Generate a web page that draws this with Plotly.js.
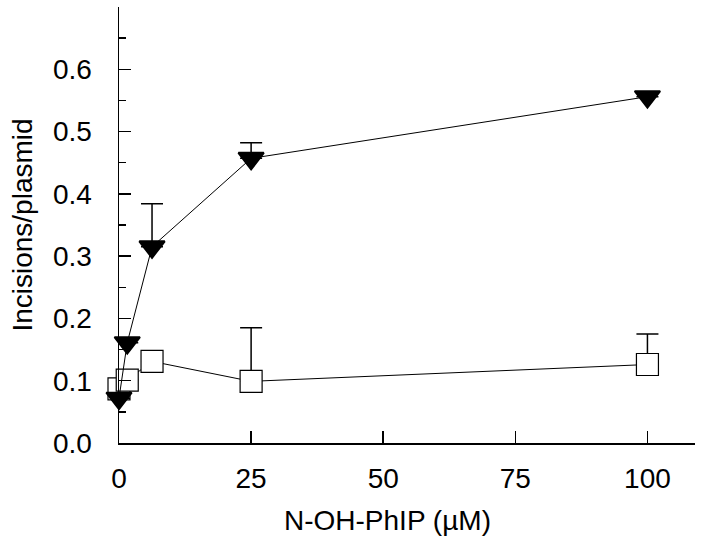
<!DOCTYPE html>
<html>
<head>
<meta charset="utf-8">
<script src="https://cdn.plot.ly/plotly-3.0.1.min.js"></script>
<style>html,body{margin:0;padding:0;background:#fff;}#chart{width:702px;height:539px;}</style>
</head>
<body>
<div id="chart"></div>
<script>
// Data
var doseUM = [0, 1.56, 6.25, 25, 100];
var triangleIncisions = [0.072, 0.161, 0.315, 0.457, 0.556];
var triangleErrorPlus = [0, 0, 0.069, 0.025, 0];
var squareIncisions = [0.087, 0.101, 0.131, 0.099, 0.126];
var squareErrorPlus = [0, 0, 0, 0.086, 0.049];
var xTickVals = [0, 25, 50, 75, 100];
var xTickText = ['0', '25', '50', '75', '100'];
var yTickVals = [0, 0.1, 0.2, 0.3, 0.4, 0.5, 0.6];
var yTickText = ['0.0', '0.1', '0.2', '0.3', '0.4', '0.5', '0.6'];
var xTitle = 'N-OH-PhIP (µM)';
var yTitle = 'Incisions/plasmid';

var FONT = 'Liberation Sans, Arial, sans-serif';
var FS = 28;

var traces = [
  {
    x: doseUM, y: squareIncisions, type: 'scatter', mode: 'lines+markers',
    cliponaxis: false,
    line: {color: '#000', width: 1},
    marker: {symbol: 'square', size: 22, color: '#fff', line: {color: '#000', width: 1.2}},
    error_y: {type: 'data', symmetric: false, array: squareErrorPlus, arrayminus: [0,0,0,0,0], color: '#000', thickness: 1.5, width: 11},
    showlegend: false
  },
  {
    x: doseUM, y: triangleIncisions, type: 'scatter', mode: 'lines+markers',
    cliponaxis: false,
    line: {color: '#000', width: 1},
    marker: {symbol: 'triangle-down', size: 22, color: '#000', line: {color: '#000', width: 2}},
    error_y: {type: 'data', symmetric: false, array: triangleErrorPlus, arrayminus: [0,0,0,0,0], color: '#000', thickness: 1.5, width: 11},
    showlegend: false
  }
];

var layout = {
  width: 702, height: 539,
  margin: {l: 119, r: 7, t: 7, b: 96},
  paper_bgcolor: '#fff', plot_bgcolor: '#fff',
  font: {family: FONT, color: '#000', size: FS},
  xaxis: {
    range: [0, 109], showgrid: false, zeroline: false,
    showline: true, linecolor: '#000', linewidth: 1.5,
    ticks: 'inside', ticklen: 12, tickwidth: 1.5, tickcolor: '#000',
    tickvals: xTickVals, ticktext: xTickText,
    tickfont: {family: FONT, size: FS, color: '#000'},
    ticklabelstandoff: 10
  },
  yaxis: {
    range: [0, 0.7], showgrid: false, zeroline: false,
    showline: true, linecolor: '#000', linewidth: 1.5,
    ticks: 'inside', ticklen: 12, tickwidth: 1.5, tickcolor: '#000',
    tickvals: yTickVals, ticktext: yTickText,
    tickfont: {family: FONT, size: FS, color: '#000'},
    ticklabelstandoff: 20,
    minor: {ticks: 'inside', ticklen: 7, tickwidth: 1.5, tickcolor: '#000', dtick: 0.05, showgrid: false},
    title: {text: yTitle, font: {family: FONT, size: FS, color: '#000'}, standoff: 12}
  },
  annotations: [{
    text: xTitle, xref: 'paper', yref: 'paper', x: 0.467, y: -0.177,
    xanchor: 'center', yanchor: 'middle', showarrow: false,
    font: {family: FONT, size: FS, color: '#000'}
  }]
};

Plotly.newPlot('chart', traces, layout, {displayModeBar: false, staticPlot: true});
</script>
</body>
</html>
